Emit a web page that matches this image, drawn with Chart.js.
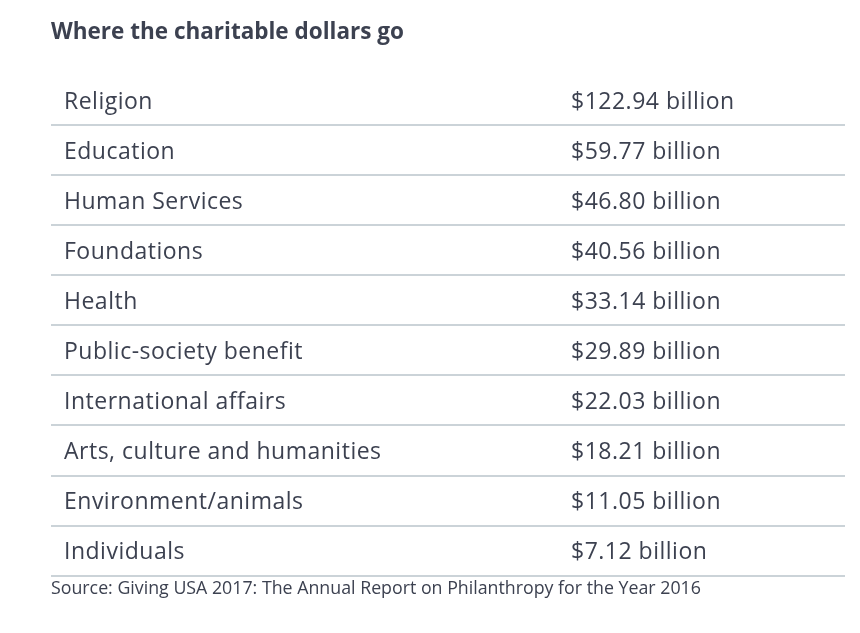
<!DOCTYPE html>
<html>
<head>
<meta charset="utf-8">
<script src="https://cdn.jsdelivr.net/npm/chart.js@4.4.1/dist/chart.umd.min.js"></script>
<style>
  html, body { margin: 0; padding: 0; background: #fff; }
  #wrap { width: 860px; height: 633px; }
</style>
</head>
<body>
<div id="wrap"><canvas id="giving"></canvas></div>
<script>
var categories = ['Religion', 'Education', 'Human Services', 'Foundations', 'Health',
  'Public-society benefit', 'International affairs', 'Arts, culture and humanities',
  'Environment/animals', 'Individuals'];
var billions = [122.94, 59.77, 46.80, 40.56, 33.14, 29.89, 22.03, 18.21, 11.05, 7.12];

var titleText = 'Where the charitable dollars go';
var sourceText = 'Source: Giving USA 2017: The Annual Report on Philanthropy for the Year 2016';

var textColor = '#3c4150';
var ruleColor = '#cbd3d8';
var fontName = '"Open Sans", sans-serif';

// writes the two columns of the table at the row centres of the y scale
var tableText = {
  id: 'tableText',
  afterDatasetsDraw: function (chart) {
    var ctx = chart.ctx;
    var y = chart.scales.y;
    var left = chart.chartArea.left;
    ctx.save();
    ctx.fillStyle = textColor;
    ctx.font = '23px ' + fontName;
    ctx.letterSpacing = '0.5px';
    ctx.textBaseline = 'middle';
    ctx.textAlign = 'left';
    categories.forEach(function (name, i) {
      var py = y.getPixelForValue(i) + 2;
      ctx.fillText(name, left + 13, py);
      ctx.fillText('$' + billions[i].toFixed(2) + ' billion', left + 520, py);
    });
    ctx.restore();
  }
};

new Chart(document.getElementById('giving'), {
  type: 'bar',
  data: {
    labels: categories,
    datasets: [{
      data: billions,
      backgroundColor: 'rgba(0,0,0,0)',
      borderWidth: 0
    }]
  },
  plugins: [tableText],
  options: {
    indexAxis: 'y',
    responsive: true,
    maintainAspectRatio: false,
    animation: false,
    layout: { padding: { left: 51, right: 15, top: 0, bottom: 0 } },
    scales: {
      x: { display: false, min: 0 },
      y: {
        display: true,
        ticks: { display: false },
        border: { display: false },
        grid: {
          offset: true,
          drawTicks: false,
          lineWidth: 2,
          color: function (c) { return c.index === 0 ? 'rgba(0,0,0,0)' : ruleColor; }
        }
      }
    },
    plugins: {
      legend: { display: false },
      tooltip: { enabled: false },
      title: {
        display: true,
        text: titleText,
        align: 'start',
        color: textColor,
        font: { family: fontName, size: 22.5, weight: 'bold', lineHeight: 1.2 },
        padding: { top: 19, bottom: 29 }
      },
      subtitle: {
        display: true,
        position: 'bottom',
        text: sourceText,
        align: 'start',
        color: textColor,
        font: { family: fontName, size: 17.8, lineHeight: 1.2 },
        padding: { top: 3, bottom: 33 }
      }
    }
  }
});
</script>
</body>
</html>
